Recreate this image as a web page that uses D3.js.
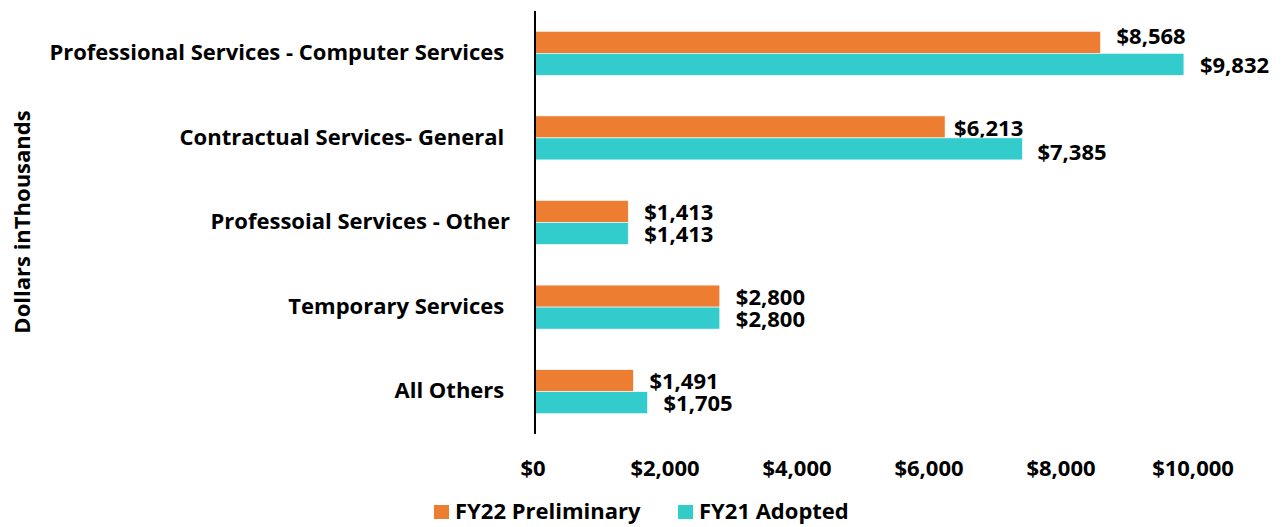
<!DOCTYPE html>
<meta charset="utf-8">
<style>
  body { margin: 0; background: #fff; }
  svg { display: block; }
  text { font-family: "Open Sans", sans-serif; font-weight: bold; fill: #000; font-size: 22px; }
</style>
<body>
<svg width="1286" height="527"></svg>
<script src="https://d3js.org/d3.v7.min.js"></script>
<script>
const categories = [
  "Professional Services - Computer Services ",
  "Contractual Services- General ",
  "Professoial Services - Other",
  "Temporary Services ",
  "All Others "
];
const seriesNames = ["FY22 Preliminary", "FY21 Adopted"];
const fy22 = [8568, 6213, 1413, 2800, 1491];
const fy21 = [9832, 7385, 1413, 2800, 1705];
const ticks = [0, 2000, 4000, 6000, 8000, 10000];
const colors = ["#ED7D31", "#33CCCC"];

// hand-placed label nudges as in the original (row, series) -> [dx, dy]
const labelNudge = { "0-0": [0, -7], "1-0": [-7, 0], "1-1": [-1, 2] };

const svg = d3.select("svg");
const fmt = d3.format("$,");

const x = d3.scaleLinear().domain([0, 10000]).range([535, 1195]);
const y = d3.scaleBand().domain(categories).range([11, 434]).paddingInner(0.48).paddingOuter(0.24);
const ySub = d3.scaleBand().domain([0, 1]).range([0, y.bandwidth()]);

const rows = categories.map((c, i) => ({ c, vals: [fy22[i], fy21[i]] }));

const g = svg.append("g");
rows.forEach((r, i) => {
  r.vals.forEach((v, k) => {
    g.append("rect")
      .attr("x", x(0))
      .attr("y", y(r.c) + ySub(k))
      .attr("width", x(v) - x(0))
      .attr("height", ySub.bandwidth())
      .attr("fill", colors[k])
      .attr("stroke", "#fff")
      .attr("stroke-width", 0.6);
    const n = labelNudge[i + "-" + k] || [0, 0];
    g.append("text")
      .attr("x", x(v) + 16 + n[0])
      .attr("y", y(r.c) + ySub(k) + ySub.bandwidth() / 2 + 1 + n[1])
      .attr("dy", "0.35em")
      .text(fmt(v));
  });
});

// category labels
svg.append("g").selectAll("text")
  .data(categories)
  .join("text")
  .attr("x", 510)
  .attr("y", d => y(d) + y.bandwidth() / 2 - 1)
  .attr("dy", "0.35em")
  .attr("text-anchor", "end")
  .style("white-space", "pre")
  .text(d => d);

// axis line
svg.append("line")
  .attr("x1", 535).attr("x2", 535)
  .attr("y1", 11).attr("y2", 434)
  .attr("stroke", "#000").attr("stroke-width", 2);

// x tick labels
svg.append("g").selectAll("text")
  .data(ticks)
  .join("text")
  .attr("x", d => x(d) - 2)
  .attr("y", 468)
  .attr("dy", "0.35em")
  .attr("text-anchor", "middle")
  .text(d => fmt(d));

// y title
svg.append("text")
  .attr("transform", "translate(22,222) rotate(-90)")
  .attr("dy", "0.35em")
  .attr("text-anchor", "middle")
  .text("Dollars inThousands");

// legend
const leg = svg.append("g");
const legX = [434, 678];
seriesNames.forEach((s, k) => {
  leg.append("rect")
    .attr("x", legX[k]).attr("y", 505)
    .attr("width", 15).attr("height", 14)
    .attr("fill", colors[k]);
  leg.append("text")
    .attr("x", legX[k] + 21).attr("y", 511)
    .attr("dy", "0.35em")
    .text(s);
});
</script>
</body>
